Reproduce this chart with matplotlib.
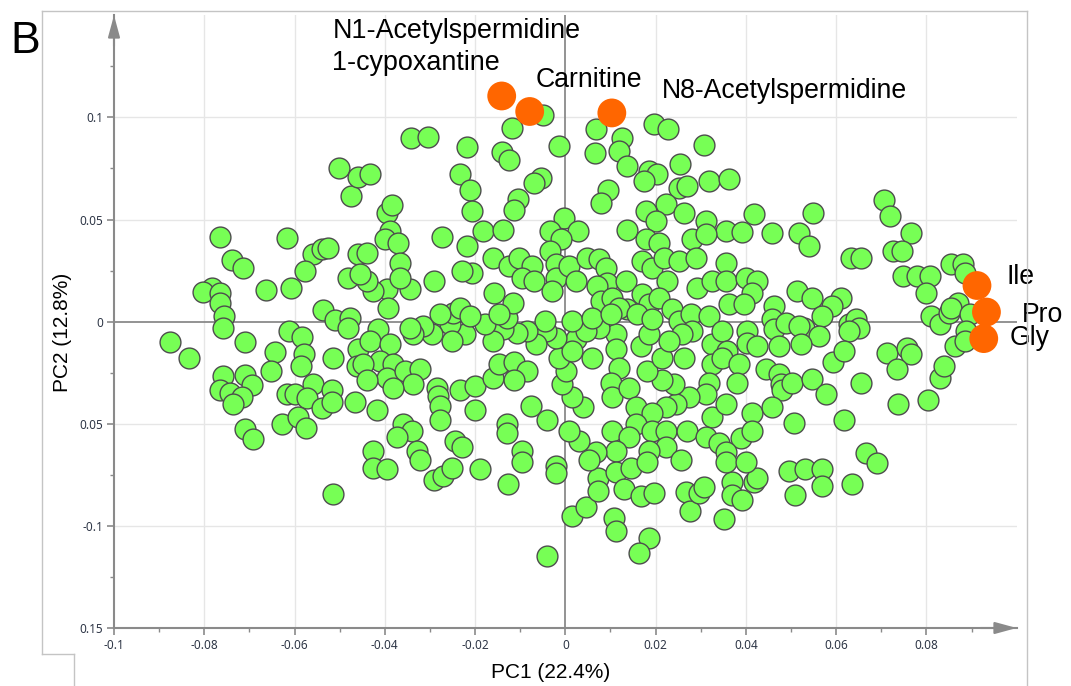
import numpy as np
import matplotlib
matplotlib.use('Agg')
import matplotlib.pyplot as plt
from matplotlib.lines import Line2D

# ---- data (PC scores, in units of 1e-3) ----
green_pc1_milli = [
    -50.2, -47.5, -46.0, -76.5, -61.7, -73.8, -71.4, -55.9, -53.9, -52.6,
    -57.7, -78.2, -80.2, -76.5, -76.5, -66.3, -60.8, -48.2, -46.0, -75.6,
    -75.8, -70.9, -87.5, -83.3, -53.7, -51.1, -47.7, -48.2, -61.2, -58.3,
    -57.9, -58.6, -64.3, -65.2, -51.5, -46.0, -46.2, -75.8, -70.9, -69.4,
    -76.5, -74.3, -71.6, -73.6, -55.9, -61.7, -59.9, -57.2, -53.9, -51.7,
    -51.7, -46.6, -62.8, -59.2, -57.5, -70.9, -69.2, -51.5, -4.9, -11.9,
    -34.3, -30.5, -21.7, -14.1, -12.4, -1.3, 6.9, 12.6, 6.6, 11.9,
    13.7, 19.7, 22.8, 30.7, 25.4, 18.6, 20.3, 17.5, -23.4, -21.2,
    -5.3, -6.9, -10.6, -11.3, -20.6, -39.6, -38.5, -43.3, 9.5, 8.0,
    -0.2, 25.2, 27.0, 22.3, 26.3, 31.8, 17.9, 20.1, 13.7, 31.2,
    -18.3, -13.9, -3.5, 2.7, -27.4, -38.9, 36.2, 41.8, 54.8, 70.7,
    72.0, 35.6, 39.1, 45.7, 51.7, 76.5, -40.0, -37.1, -44.0, -21.7,
    -0.9, -3.5, 17.9, 20.8, 28.1, 31.2, -36.7, -16.1, -12.4, -10.2,
    -7.3, -9.5, -6.9, -2.0, -2.0, -2.9, 0.9, 2.4, 4.9, 7.5,
    9.1, 9.3, 7.1, 8.0, 10.4, 13.5, 17.0, 19.2, 21.9, 25.2,
    29.0, 22.5, 17.0, 13.7, 18.6, 20.8, 23.6, 25.2, 27.8, 29.2,
    32.5, 31.8, 28.1, 25.9, 32.5, 32.5, 31.8, 31.2, 32.5, 27.4,
    24.5, 22.3, 24.1, 21.4, 18.1, 21.4, 26.3, 16.8, 18.6, 23.0,
    11.3, 11.3, 11.9, 10.2, 10.4, 14.1, 15.7, 19.2, 15.7, 10.4,
    14.1, 19.2, 22.3, 27.0, 31.2, 22.3, 18.6, 11.3, 6.9, 3.1,
    0.9, 3.8, 1.5, -0.7, 0.2, -1.3, 2.4, 1.5, -2.0, -4.2,
    -6.4, -4.6, -8.6, -10.8, -13.9, -13.0, -16.1, -17.9, -22.3, -25.6,
    -25.2, -29.6, -31.6, -33.8, -34.5, -41.5, -43.3, -38.9, -41.1, -44.9,
    -38.2, -39.6, -35.6, -32.3, -33.8, -38.2, -44.0, -41.8, -36.0, -34.0,
    -37.3, -32.9, -42.7, -28.5, -28.3, -27.8, -27.8, -23.4, -20.1, -20.1,
    -16.1, -14.6, -11.3, -8.6, -11.3, -7.5, -4.0, -13.0, -13.0, -24.5,
    -22.8, -9.5, 6.0, 7.5, 4.6, 1.5, 6.0, 11.9, 10.2, 15.9,
    19.2, -25.0, -23.4, -21.2, -27.8, -20.6, -22.8, -15.7, -11.7, -14.6,
    -29.0, -34.5, -39.6, -42.7, -44.0, -39.3, -36.7, -45.5, 53.9, 63.2,
    65.6, 72.7, 74.5, 85.5, 88.2, 88.6, 74.9, 77.8, 80.9, 79.8,
    35.6, 35.6, 40.0, 42.4, 41.3, 36.2, 39.6, 46.2, 51.3, 54.6,
    61.0, 59.0, 56.8, 52.8, 56.1, 62.8, 64.3, 65.0, 62.8, 45.7,
    46.2, 48.8, 51.7, 47.3, 52.2, 40.2, 40.2, 42.4, 34.7, 35.8,
    34.7, 44.4, 47.3, 47.7, 47.9, 50.2, 38.5, 38.0, 41.3, 35.6,
    45.7, 50.6, 54.6, 59.4, 61.7, 57.7, 65.4, 61.7, 71.2, 75.6,
    76.5, 73.4, 73.8, 80.4, 83.1, 83.8, 86.4, 81.1, 83.1, 84.9,
    87.1, 85.5, 89.7, 88.8, 88.6, 38.9, 41.3, 34.0, 35.6, 66.7,
    69.0, -42.7, -39.6, -29.0, -27.2, -25.2, -19.0, -12.8, -2.0, -2.0,
    1.5, 4.6, 7.3, 7.3, 11.3, 14.6, 13.0, 16.8, 19.7, 10.8,
    11.3, 18.6, 16.4, -4.0, 26.7, 27.6, 29.6, 30.7, 35.1, -32.3,
    -9.7, 5.3, 18.1, 25.6, 36.9, 36.9, 39.1, 41.8, 42.4, 49.5,
    53.0, 56.8, 56.8, 50.8, 63.4, 35.6, 40.0,
]
green_pc2_milli = [
    75.3, 61.6, 70.9, 41.5, 41.1, 30.3, 26.4, 33.2, 35.7, 36.2,
    24.9, 16.6, 14.7, 14.2, 9.3, 15.6, 16.6, 21.5, 33.2, 2.9,
    -2.9, -9.8, -9.8, -17.6, 5.9, 1.0, 2.0, -2.9, -4.4, -7.3,
    -15.6, -21.5, -14.7, -24.4, -17.6, -13.2, -21.5, -26.4, -25.9, -30.8,
    -33.7, -34.7, -37.1, -40.1, -30.3, -35.2, -35.2, -37.6, -42.5, -33.7,
    -39.1, -39.1, -49.9, -46.9, -52.3, -52.8, -57.7, -84.6, 101.2, 94.8,
    89.9, 90.4, 85.5, 83.1, 79.2, 86.0, 94.3, 89.9, 82.6, 83.6,
    76.3, 96.8, 94.3, 86.5, 77.2, 73.8, 72.3, 68.9, 72.3, 64.5,
    70.4, 67.9, 60.1, 54.7, 54.3, 53.3, 57.2, 72.3, 64.5, 58.2,
    50.8, 65.5, 66.5, 57.7, 53.3, 68.9, 54.3, 49.4, 45.0, 49.4,
    44.5, 45.0, 44.5, 44.5, 41.5, 44.5, 69.9, 52.8, 53.3, 59.6,
    51.8, 44.5, 44.0, 43.5, 43.5, 43.5, 40.6, 38.6, 33.7, 37.1,
    40.6, 34.7, 40.6, 38.6, 40.6, 43.0, 28.8, 31.3, 27.4, 31.3,
    27.4, 21.5, 20.0, 28.4, 21.5, 15.2, 27.4, 20.0, 31.3, 30.8,
    26.4, 19.1, 17.6, 10.3, 11.7, 20.0, 29.8, 26.4, 31.3, 29.8,
    31.3, 20.0, 13.7, 6.4, 8.8, 11.7, 6.4, 0.5, 3.9, 16.6,
    20.0, 2.9, -4.4, -5.9, -10.8, -20.5, -29.8, -35.2, -46.9, -37.1,
    -40.1, -42.0, -30.3, -28.8, -24.0, -17.6, -17.6, -11.7, -5.9, -9.3,
    -5.9, -13.2, -22.5, -29.8, -37.1, -32.3, -42.0, -44.5, -49.9, -53.3,
    -56.7, -53.3, -53.3, -53.3, -56.7, -61.6, -63.1, -63.1, -64.0, -58.2,
    -53.3, -42.0, -37.1, -30.3, -24.0, -17.6, -8.3, -14.2, -7.8, -4.4,
    -10.8, 0.5, -4.4, -5.4, -3.4, 2.0, -9.3, -1.0, -5.9, -1.0,
    -9.3, -5.9, -2.0, -5.9, -2.9, -3.4, -9.3, -10.8, -19.1, -20.5,
    -20.5, -27.4, -24.0, -23.0, -30.3, -32.3, -28.8, -43.5, -49.9, -53.3,
    -56.7, -63.1, -63.1, -32.3, -36.2, -41.1, -48.4, -33.7, -31.3, -43.5,
    -27.4, -20.5, -20.0, -24.0, -28.8, -41.1, -48.4, -49.9, -54.7, -58.2,
    -61.6, -63.1, -17.6, -2.9, -4.4, 0.5, 2.0, 6.8, 3.9, 3.9,
    1.5, 4.4, 6.8, 2.9, 3.9, 24.0, 24.9, 14.2, 9.3, 3.9,
    20.0, 16.1, 16.1, 15.2, 20.0, 6.8, 21.5, 23.5, 37.1, 31.3,
    31.3, 34.7, 34.7, 28.4, 28.4, 24.0, 22.5, 22.5, 22.5, 14.2,
    28.8, 20.0, 21.5, 20.0, 14.2, 8.8, 8.8, 7.8, 15.2, 11.7,
    11.7, 7.8, 2.9, -2.9, -6.8, -1.0, 1.5, -2.9, -4.4, 1.5,
    -3.4, -0.5, -2.0, -11.7, -10.8, -4.4, -10.3, -11.7, -4.4, -14.2,
    -17.6, -23.0, -25.4, -30.3, -33.7, -29.8, -20.5, -29.8, -44.5, -40.1,
    -42.0, -49.4, -27.9, -20.0, -14.2, -35.2, -29.8, -48.4, -15.2, -12.7,
    -15.6, -23.0, -40.1, -38.6, -27.4, -21.5, -11.7, 2.9, -1.0, 4.4,
    9.3, 6.8, 3.9, -4.4, -9.3, -57.2, -53.3, -59.6, -64.0, -64.5,
    -69.4, -71.9, -72.3, -77.7, -75.8, -71.9, -72.3, -79.7, -70.9, -74.3,
    -95.3, -90.9, -76.7, -83.1, -73.8, -71.9, -82.1, -85.5, -84.1, -96.3,
    -102.6, -106.1, -113.4, -114.9, -83.6, -92.9, -84.1, -81.1, -96.8, -67.9,
    -68.9, -67.9, -68.9, -67.9, -78.7, -85.1, -87.5, -78.7, -76.7, -73.3,
    -72.3, -72.3, -80.7, -85.1, -79.7, -68.9, -68.9,
]

highlight_names = ['N1-Acetylspermidine\n1-cypoxantine', 'Carnitine', 'N8-Acetylspermidine',
                   'Ile', 'Pro', 'Gly']
highlight_pc1_milli = [-14.1, -7.9, 10.3, 91.2, 93.3, 92.7]
highlight_pc2_milli = [110.5, 102.9, 102.2, 17.7, 4.7, -8.3]

x_ticks = [-0.1, -0.08, -0.06, -0.04, -0.02, 0.0, 0.02, 0.04, 0.06, 0.08]
x_tick_labels = ['-0.1', '-0.08', '-0.06', '-0.04', '-0.02', '0', '0.02', '0.04', '0.06', '0.08']
y_ticks = [-0.15, -0.1, -0.05, 0.0, 0.05, 0.1]
y_tick_labels = ['0.15', '-0.1', '0.05', '0', '0.05', '0.1']

gx = np.array(green_pc1_milli) / 1000.0
gy = np.array(green_pc2_milli) / 1000.0
ox = np.array(highlight_pc1_milli) / 1000.0
oy = np.array(highlight_pc2_milli) / 1000.0

W, H = 1071, 686
fig = plt.figure(figsize=(W / 100, H / 100), dpi=100)
ax = fig.add_axes([114 / W, (H - 628) / H, (1016.7 - 114) / W, (628 - 15.3) / H])
ax.set_xlim(-0.1, 0.1)
ax.set_ylim(-0.15, 0.15)

axis_gray = '#8a8a8a'
grid_gray = '#e6e6e6'

# grid
for xv in x_ticks[1:]:
    if xv != 0:
        ax.axvline(xv, color=grid_gray, lw=1.0, zorder=0)
for yv in [-0.1, -0.05, 0.05, 0.1]:
    ax.axhline(yv, color=grid_gray, lw=1.0, zorder=0)
ax.axhline(0, color=axis_gray, lw=1.3, zorder=1)
ax.axvline(0, color=axis_gray, lw=1.3, zorder=1)

ax.scatter(gx, gy, s=225, c='#77ff55', edgecolors='#4d4d4d', linewidths=1.0, zorder=3)
ax.scatter(ox, oy, s=430, c='#ff6600', edgecolors='none', zorder=4)

# spines
for side in ['top', 'right']:
    ax.spines[side].set_visible(False)
for side in ['left', 'bottom']:
    ax.spines[side].set_color(axis_gray)
    ax.spines[side].set_linewidth(1.5)

ax.set_xticks(x_ticks)
ax.set_xticklabels(x_tick_labels)
ax.set_yticks(y_ticks)
ax.set_yticklabels(y_tick_labels)
ax.set_xticks([-0.09, -0.07, -0.05, -0.03, -0.01, 0.01, 0.03, 0.05, 0.07, 0.09], minor=True)
ax.set_yticks([-0.125, -0.075, -0.025, 0.025, 0.075, 0.125], minor=True)
ax.tick_params(which='major', length=5, width=1.2, color=axis_gray, direction='out',
               labelsize=8.5, labelcolor='#2e3646', pad=3)
ax.tick_params(which='minor', length=3, width=1.0, color=axis_gray, direction='out')
for lab in ax.get_xticklabels() + ax.get_yticklabels():
    lab.set_family('Noto Sans')

# axis arrows
arrow_kw = dict(arrowstyle='-|>,head_length=1.1,head_width=0.3', color=axis_gray, lw=1.5,
                shrinkA=0, shrinkB=0, mutation_scale=12)
ax.annotate('', xy=(0, 1), xycoords='axes fraction', xytext=(0, 0.95),
            arrowprops=arrow_kw, annotation_clip=False)
ax.annotate('', xy=(1, 0), xycoords='axes fraction', xytext=(0.96, 0),
            arrowprops=arrow_kw, annotation_clip=False)

# labels for highlighted metabolites
font_main = 'Liberation Sans'
label_pos = [(-0.0516, 0.1390), (-0.0066, 0.1148), (0.0213, 0.1096),
             (0.0977, 0.0182), (0.1011, 0.0000), (0.0984, -0.0116)]
for name, (tx, ty) in zip(highlight_names, label_pos):
    if '\n' in name:
        l1, l2 = name.split('\n')
        ax.text(tx, ty, l1, fontsize=19.4, family=font_main, va='baseline', ha='left', clip_on=False, zorder=5)
        ax.text(tx, ty - 0.0159, l2, fontsize=19.4, family=font_main, va='baseline', ha='left', clip_on=False, zorder=5)
    else:
        ax.text(tx, ty, name, fontsize=19.2, family=font_main, va='baseline', ha='left', clip_on=False, zorder=5)

# axis titles
fig.text(551 / W, (H - 678) / H, 'PC1 (22.4%)', fontsize=15, family=font_main, ha='center', va='baseline')
fig.text(62 / W, (H - 332) / H, 'PC2 (12.8%)', fontsize=15, family=font_main, ha='center', va='center',
         rotation=90)

# panel letter
fig.text(10 / W, (H - 53) / H, 'B', fontsize=32, family=font_main, ha='left', va='baseline')

# screenshot frame
frame_c = '#c4c4c4'
def fl(x0, y0, x1, y1):
    fig.add_artist(Line2D([x0 / W, x1 / W], [1 - y0 / H, 1 - y1 / H], transform=fig.transFigure,
                          color=frame_c, lw=1.0))
fl(42, 10.5, 1027, 10.5)
fl(42, 10.5, 42, 654)
fl(42, 654, 74, 654)
fl(74, 654, 74, 686)
fl(1027, 10.5, 1027, 686)

fig.savefig('out.png', dpi=100)
